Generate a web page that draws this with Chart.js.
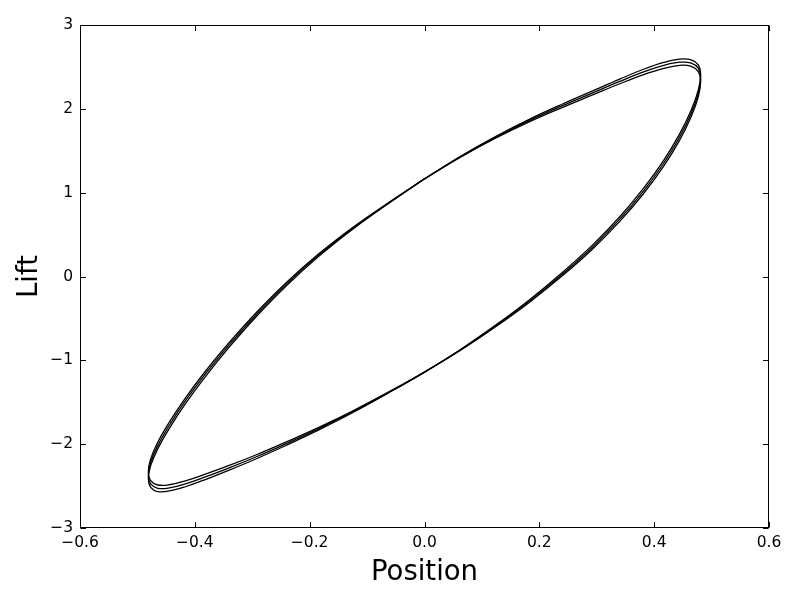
<!DOCTYPE html>
<html>
<head>
<meta charset="utf-8">
<script src="https://cdn.jsdelivr.net/npm/chart.js@4/dist/chart.umd.min.js"></script>
<style>
  html, body { margin: 0; padding: 0; background: #ffffff; }
  canvas { display: block; }
</style>
</head>
<body>
<canvas id="c" width="800" height="600"></canvas>
<script>
// Position (shared by the three cycles)
const position = [0.0000, 0.0628, 0.1245, 0.1841, 0.2405, 0.2928, 0.3401, 0.3816, 0.4166, 0.4444, 0.4646, 0.4769, 0.4810,
  0.4769, 0.4646, 0.4444, 0.4166, 0.3816, 0.3401, 0.2928, 0.2405, 0.1841, 0.1245, 0.0628, 0.0000,
  -0.0628, -0.1245, -0.1841, -0.2405, -0.2928, -0.3401, -0.3816, -0.4166, -0.4444, -0.4646, -0.4769, -0.4810,
  -0.4769, -0.4646, -0.4444, -0.4166, -0.3816, -0.3401, -0.2928, -0.2405, -0.1841, -0.1245, -0.0628, 0.0000];

// Lift for each of the three cycles
const liftCycle1 = [1.165, 1.434, 1.672, 1.880, 2.058, 2.214, 2.355, 2.472, 2.553, 2.593, 2.585, 2.525, 2.410,
  2.226, 1.986, 1.701, 1.386, 1.054, 0.713, 0.377, 0.051, -0.270, -0.577, -0.870, -1.140,
  -1.389, -1.622, -1.830, -2.013, -2.174, -2.310, -2.422, -2.508, -2.558, -2.565, -2.515, -2.410,
  -2.256, -2.056, -1.811, -1.520, -1.194, -0.843, -0.477, -0.111, 0.240, 0.567, 0.870, 1.165];
const liftCycle2 = [1.165, 1.429, 1.662, 1.865, 2.038, 2.190, 2.327, 2.440, 2.518, 2.556, 2.546, 2.485, 2.370,
  2.186, 1.947, 1.664, 1.351, 1.022, 0.685, 0.353, 0.031, -0.285, -0.587, -0.875, -1.140,
  -1.384, -1.612, -1.815, -1.993, -2.150, -2.282, -2.390, -2.473, -2.521, -2.526, -2.475, -2.370,
  -2.216, -2.017, -1.774, -1.485, -1.162, -0.815, -0.453, -0.091, 0.255, 0.577, 0.875, 1.165];
const liftCycle3 = [1.165, 1.424, 1.652, 1.850, 2.018, 2.166, 2.299, 2.408, 2.483, 2.519, 2.507, 2.445, 2.330,
  2.146, 1.908, 1.627, 1.316, 0.990, 0.657, 0.329, 0.011, -0.300, -0.597, -0.880, -1.140,
  -1.379, -1.602, -1.800, -1.973, -2.126, -2.254, -2.358, -2.438, -2.484, -2.487, -2.435, -2.330,
  -2.176, -1.978, -1.737, -1.450, -1.130, -0.787, -0.429, -0.071, 0.270, 0.587, 0.880, 1.165];

// Tick labels
const xTickLabels = ['\u22120.6', '\u22120.4', '\u22120.2', '0.0', '0.2', '0.4', '0.6'];
const yTickLabels = ['\u22123', '\u22122', '\u22121', '0', '1', '2', '3'];

const cycles = [liftCycle1, liftCycle2, liftCycle3];

const FONT = "'DejaVu Sans', 'Liberation Sans', sans-serif";

const frameTicks = {
  id: 'frameTicks',
  afterDraw(chart) {
    const { ctx, chartArea: a, scales: { x, y } } = chart;
    const L = 5.5;
    const left = Math.round(a.left) + 0.5, right = Math.round(a.right) - 0.5;
    const top = Math.round(a.top) + 0.5, bottom = Math.round(a.bottom) - 0.5;
    ctx.save();
    ctx.strokeStyle = '#000';
    ctx.lineWidth = 1;
    ctx.beginPath();
    x.ticks.forEach(t => {
      const px = Math.round(x.getPixelForValue(t.value)) + 0.5;
      ctx.moveTo(px, bottom); ctx.lineTo(px, bottom - L);
      ctx.moveTo(px, top); ctx.lineTo(px, top + L);
    });
    y.ticks.forEach(t => {
      const py = Math.round(y.getPixelForValue(t.value)) + 0.5;
      ctx.moveTo(left, py); ctx.lineTo(left + L, py);
      ctx.moveTo(right, py); ctx.lineTo(right - L, py);
    });
    ctx.stroke();
    ctx.strokeRect(left, top, right - left, bottom - top);
    ctx.restore();
  }
};

new Chart(document.getElementById('c'), {
  type: 'scatter',
  data: {
    datasets: cycles.map((ys, k) => ({
      label: 'cycle ' + (k + 1),
      data: position.map((px, i) => ({ x: px, y: ys[i] })),
      showLine: true,
      borderColor: '#000000',
      backgroundColor: '#000000',
      borderWidth: 1.3,
      pointRadius: 0,
      pointHoverRadius: 0,
      tension: 0.4,
      fill: false
    }))
  },
  options: {
    responsive: false,
    animation: false,
    events: [],
    layout: { padding: { left: 0, right: 31, top: 25, bottom: 0 } },
    plugins: {
      legend: { display: false },
      tooltip: { enabled: false },
      title: { display: false }
    },
    scales: {
      x: {
        type: 'linear',
        min: -0.6, max: 0.6,
        grid: { display: false, drawTicks: false },
        border: { display: false },
        ticks: {
          stepSize: 0.2,
          padding: 6,
          color: '#000',
          font: { family: FONT, size: 15.5 },
          maxRotation: 0,
          callback: (v, i) => xTickLabels[i]
        },
        title: {
          display: true, text: 'Position', color: '#000',
          font: { family: FONT, size: 27.5 },
          padding: { top: 0, bottom: 11 }
        },
        afterFit: s => { s.height = 72; }
      },
      y: {
        type: 'linear',
        min: -3, max: 3,
        grid: { display: false, drawTicks: false },
        border: { display: false },
        ticks: {
          stepSize: 1,
          padding: 7,
          color: '#000',
          font: { family: FONT, size: 15.5 },
          callback: (v, i) => yTickLabels[i]
        },
        title: {
          display: true, text: 'Lift', color: '#000',
          font: { family: FONT, size: 27.5 },
          padding: { top: 13, bottom: 0 }
        },
        afterFit: s => { s.width = 80; }
      }
    }
  },
  plugins: [frameTicks]
});
</script>
</body>
</html>
